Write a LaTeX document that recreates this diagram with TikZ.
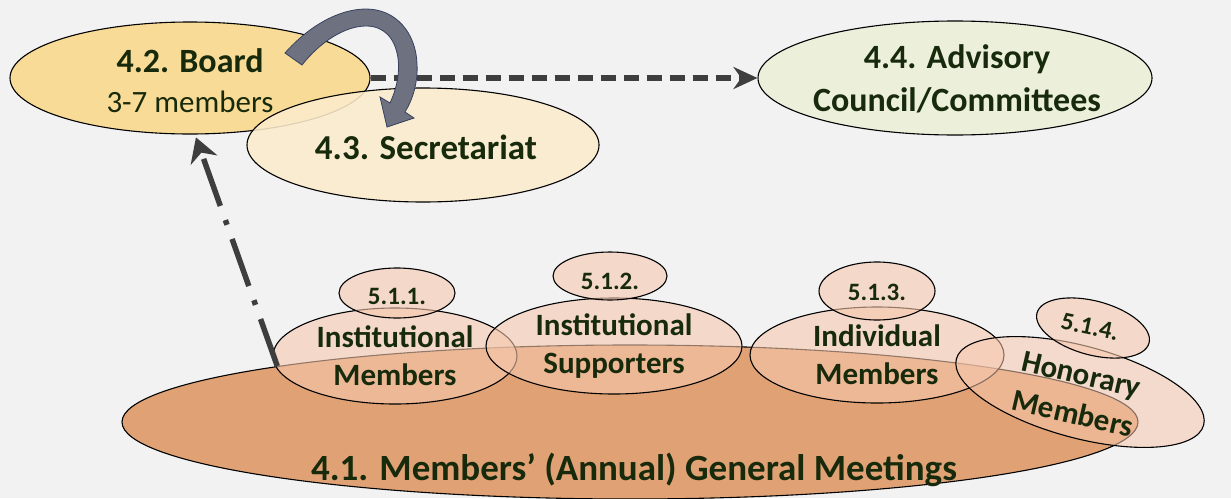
\documentclass[tikz,border=0pt]{standalone}
\usepackage{fontspec}
\setmainfont{Carlito}
\usetikzlibrary{shapes.geometric,arrows.meta,calc}
\definecolor{bgc}{RGB}{242,242,242}
\definecolor{txtc}{RGB}{24,42,12}
\definecolor{boardc}{RGB}{248,219,150}
\definecolor{secc}{RGB}{252,236,204}
\definecolor{advc}{RGB}{236,240,218}
\definecolor{gmc}{RGB}{224,162,116}
\definecolor{subc}{RGB}{246,200,174}
\definecolor{arrc}{RGB}{62,62,62}
\definecolor{curvc}{RGB}{110,114,128}
\definecolor{curvd}{RGB}{55,65,95}
\begin{document}
\begin{tikzpicture}[x=1pt,y=-1pt,
  ell/.style={ellipse, draw=black, line width=1.1pt, inner sep=0pt},
  subell/.style={ell, fill=subc, fill opacity=0.6},
  lbl/.style={text=txtc, align=center, inner sep=0pt, font=\bfseries},
  sublbl/.style={lbl, font=\bfseries\fontsize{31}{38}\selectfont},
  numlbl/.style={lbl, font=\bfseries\fontsize{25}{30}\selectfont},
  dasharrow/.style={draw=arrc, line width=6pt, dash pattern=on 15pt off 8pt,
    -{Stealth[length=24pt,width=22pt]}},
  dotarrow/.style={draw=arrc, line width=5.5pt, dash pattern=on 50pt off 15pt on 5pt off 15pt,
    -{Stealth[length=24pt,width=28pt]}},
]
\fill[bgc] (0,0) rectangle (1231,498);
\useasboundingbox (0,0) rectangle (1231,498);

% General meeting
\node[ell, fill=gmc, minimum width=1016pt, minimum height=154pt] (gm) at (630,422) {};
\node[lbl, font=\bfseries\fontsize{37}{44}\selectfont] (gmt) at (634,470) {4.1. Members’ (Annual) General Meetings};

% member categories
\node[subell, minimum width=244pt, minimum height=96pt] (im) at (395,356) {};
\node[subell, minimum width=256pt, minimum height=96pt] (is) at (614,346) {};
\node[subell, minimum width=254pt, minimum height=96pt] (ind) at (877,355) {};
\node[subell, fill opacity=0.55, minimum width=256pt, minimum height=92pt, rotate=-15] (hon) at (1080,392) {};

\node[subell, minimum width=116pt, minimum height=50pt] (s1) at (397,293) {};
\node[subell, minimum width=114pt, minimum height=48pt] (s2) at (610,276) {};
\node[subell, minimum width=116pt, minimum height=58pt] (s3) at (877,291) {};
\node[subell, minimum width=116pt, minimum height=54pt, rotate=-15] (s4) at (1093,328) {};

\node[sublbl] (imt) at (im) {Institutional\\Members};
\node[sublbl] (ist) at (is) {Institutional\\Supporters};
\node[sublbl] (indt) at (ind) {Individual\\Members};
\node[sublbl, rotate=-13] (hont1) at (1081,377) {Honorary};
\node[sublbl, rotate=-13] (hont2) at (1073,413) {Members};
\node[numlbl] (s1t) at ($(s1)+(0,3)$) {5.1.1.};
\node[numlbl] (s2t) at ($(s2)+(0,5)$) {5.1.2.};
\node[numlbl] (s3t) at ($(s3)+(0,1)$) {5.1.3.};
\node[numlbl, rotate=-12] (s4t) at (1090,327) {5.1.4.};

% top bodies
\node[ell, fill=boardc, minimum width=360pt, minimum height=112pt] (board) at (190,78) {};
\node[ell, fill=secc, fill opacity=0.88, minimum width=352pt, minimum height=114pt] (sec) at (423,145) {};
\node[ell, fill=advc, minimum width=394pt, minimum height=114pt] (adv) at (955,78) {};

\node[lbl, font=\fontsize{31}{40}\selectfont] (boardt) at (190,81)
  {{\bfseries\fontsize{34}{40}\selectfont 4.2. Board}\\3-7 members};
\node[lbl, font=\bfseries\fontsize{35}{42}\selectfont] (sect) at (426,147) {4.3. Secretariat};
\node[lbl, font=\bfseries\fontsize{34}{43}\selectfont] (advt) at (957,79) {4.4. Advisory\\Council/Committees};

% connectors
\draw[dasharrow] (board) -- (adv);
\draw[dotarrow, shorten >=3pt] (gm.171) -- (board.275);

% curved block arrow board -> secretariat
\filldraw[fill=curvc, draw=curvd, line width=0.8pt]
 (285,53) .. controls (308,27) and (338,9) .. (366,9)
 .. controls (396,9) and (416,33) .. (417,64)
 .. controls (418,82) and (413,99) .. (405,112)
 -- (414,118) -- (387,127) -- (380,97) -- (390,103)
 .. controls (397,88) and (400,72) .. (398,58)
 .. controls (395,38) and (384,26) .. (366,26)
 .. controls (345,26) and (320,42) .. (302,65)
 -- cycle;
\end{tikzpicture}
\end{document}
